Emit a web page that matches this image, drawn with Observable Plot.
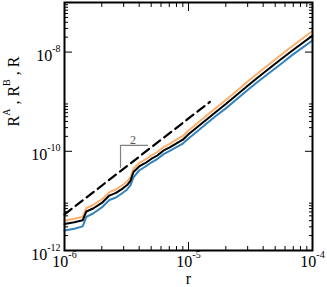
<!DOCTYPE html>
<html><head><meta charset="utf-8">
<script src="https://cdn.jsdelivr.net/npm/d3@7"></script>
<script src="https://cdn.jsdelivr.net/npm/@observablehq/plot@0.6"></script>
<style>body{margin:0;background:#fff} svg text, svg tspan{font-family:"Times New Roman","Liberation Serif",Tinos,Times,serif !important}</style>
</head><body><div id="chart"></div>
<script>
// radius values (x)
const r = [1.0e-6,1.2e-6,1.4e-6,1.5e-6,1.7e-6,2.0e-6,2.3e-6,2.6e-6,2.9e-6,3.2e-6,3.4e-6,3.6e-6,4.0e-6,4.5e-6,5.0e-6,5.6e-6,6.3e-6,7.0e-6,8.0e-6,9.0e-6,1.0e-5,1.2e-5,1.4e-5,1.7e-5,2.0e-5,2.5e-5,3.0e-5,3.6e-5,4.5e-5,5.5e-5,6.8e-5,8.2e-5,1.0e-4];
// R^A (orange)
const RA = [4.03e-12,4.36e-12,4.78e-12,7.19e-12,8.27e-12,1.07e-11,1.50e-11,1.70e-11,2.04e-11,2.46e-11,2.97e-11,4.50e-11,5.81e-11,6.84e-11,8.23e-11,9.68e-11,1.22e-10,1.40e-10,1.73e-10,2.03e-10,2.63e-10,3.81e-10,5.27e-10,7.82e-10,1.08e-9,1.72e-9,2.55e-9,3.70e-9,5.75e-9,8.54e-9,1.30e-8,1.84e-8,2.66e-8];
// R (black)
const R = [3.43e-12,3.71e-12,4.06e-12,6.11e-12,7.03e-12,9.10e-12,1.28e-11,1.45e-11,1.73e-11,2.09e-11,2.52e-11,3.83e-11,4.94e-11,5.81e-11,7.00e-11,8.23e-11,1.04e-10,1.19e-10,1.45e-10,1.71e-10,2.21e-10,3.20e-10,4.37e-10,6.49e-10,8.96e-10,1.43e-9,2.09e-9,3.03e-9,4.72e-9,7.00e-9,1.05e-8,1.49e-8,2.15e-8];
// R^B (blue)
const RB = [2.53e-12,2.74e-12,3.07e-12,4.75e-12,5.57e-12,7.38e-12,1.04e-11,1.17e-11,1.41e-11,1.70e-11,2.05e-11,2.97e-11,4.10e-11,4.94e-11,5.94e-11,6.99e-11,8.78e-11,1.01e-10,1.22e-10,1.43e-10,1.81e-10,2.63e-10,3.64e-10,5.40e-10,7.34e-10,1.17e-9,1.72e-9,2.49e-9,3.82e-9,5.64e-9,8.58e-9,1.20e-8,1.71e-8];
// dashed reference line (slope 2)
const dashR = [1.0e-6, 1.49e-5];
const dashV = [5.33e-12, 9.9e-10];
// slope guide
const guideR = [2.83e-6, 2.83e-6, 4.67e-6];
const guideV = [4.75e-11, 1.32e-10, 1.32e-10];
const guideLabel = {r: 3.56e-6, v: 1.32e-10, text: "2"};
// ticks
const xMajor = [1e-6, 1e-5, 1e-4];
const xMinor = [2e-6,3e-6,4e-6,5e-6,6e-6,7e-6,8e-6,9e-6,2e-5,3e-5,4e-5,5e-5,6e-5,7e-5,8e-5,9e-5];
const yMajor = [1e-12, 1e-10, 1e-8];
const yMinor = [2e-12,3e-12,4e-12,5e-12,6e-12,7e-12,8e-12,9e-12,2e-10,3e-10,4e-10,5e-10,6e-10,7e-10,8e-10,9e-10,2e-8,3e-8,4e-8,5e-8,6e-8,7e-8,8e-8,9e-8];
const xLabels = ["10^{-6}", "10^{-5}", "10^{-4}"];
const yLabels = ["10^{-12}", "10^{-10}", "10^{-8}"];
const xTitle = "r";
const yTitle = "R^{A} , R^{B} , R";

const rows = r.map((x, i) => ({r: x, RA: RA[i], R: R[i], RB: RB[i]}));
const dash = dashR.map((x, i) => ({r: x, v: dashV[i]}));
const guide = guideR.map((x, i) => ({r: x, v: guideV[i]}));

const tk = {tickFormat: () => "", label: null, strokeWidth: 1};
const chart = Plot.plot({
  width: 327, height: 287,
  marginLeft: 64, marginRight: 15, marginTop: 2, marginBottom: 37,
  x: {type: "log", domain: [1e-6, 1e-4]},
  y: {type: "log", domain: [1e-12, 1e-7]},
  style: {fontSize: "16px", background: "white", color: "black"},
  marks: [
    Plot.axisX({...tk, ticks: xMajor, anchor: "bottom", tickSize: 8, dy: -8}),
    Plot.axisX({...tk, ticks: xMinor, anchor: "bottom", tickSize: 4, dy: -4}),
    Plot.axisX({...tk, ticks: xMajor, anchor: "top", tickSize: 8, dy: 8}),
    Plot.axisX({...tk, ticks: xMinor, anchor: "top", tickSize: 4, dy: 4}),
    Plot.axisY({...tk, ticks: yMajor, anchor: "left", tickSize: 8, dx: 8}),
    Plot.axisY({...tk, ticks: yMinor, anchor: "left", tickSize: 4, dx: 4}),
    Plot.axisY({...tk, ticks: yMajor, anchor: "right", tickSize: 8, dx: -8}),
    Plot.axisY({...tk, ticks: yMinor, anchor: "right", tickSize: 4, dx: -4}),
    Plot.line(guide, {x: "r", y: "v", stroke: "#808080", strokeWidth: 1.2}),
    Plot.text([guideLabel], {x: "r", y: "v", text: "text", fill: "#555", fontSize: 12, lineAnchor: "bottom", dy: -1}),
    Plot.line(dash, {x: "r", y: "v", stroke: "black", strokeWidth: 2.2, strokeDasharray: "9,5"}),
    Plot.line(rows, {x: "r", y: "RA", stroke: "#fdae6b", strokeWidth: 2}),
    Plot.line(rows, {x: "r", y: "RB", stroke: "#3182bd", strokeWidth: 2}),
    Plot.line(rows, {x: "r", y: "R", stroke: "black", strokeWidth: 2}),
    Plot.frame({strokeWidth: 2}),
    Plot.text(xMajor, {x: d => d, text: (d, i) => xLabels[i], frameAnchor: "bottom", dy: 16, fontSize: 16}),
    Plot.text(yMajor, {y: d => d, text: (d, i) => yLabels[i], frameAnchor: "left", textAnchor: "end", dx: -4, dy: 4, fontSize: 16}),
    Plot.text([xTitle], {frameAnchor: "bottom", dy: 33, fontSize: 16}),
    Plot.text([yTitle], {frameAnchor: "left", rotate: -90, dx: -51, fontSize: 16})
  ]
});

const NS = "http://www.w3.org/2000/svg";
chart.querySelectorAll("text").forEach(el => {
  const s = el.textContent;
  if (!s.includes("^{")) return;
  const parts = s.split(/\^\{([^}]*)\}/);
  el.textContent = "";
  let raised = false;
  parts.forEach((p, i) => {
    if (p === "") return;
    const t = document.createElementNS(NS, "tspan");
    t.textContent = p;
    if (i % 2 === 1) { t.setAttribute("font-size", 10); t.setAttribute("dy", -9); raised = true; }
    else if (raised) { t.setAttribute("dy", 9); raised = false; }
    el.appendChild(t);
  });
});
document.getElementById("chart").appendChild(chart);
</script>
</body></html>
